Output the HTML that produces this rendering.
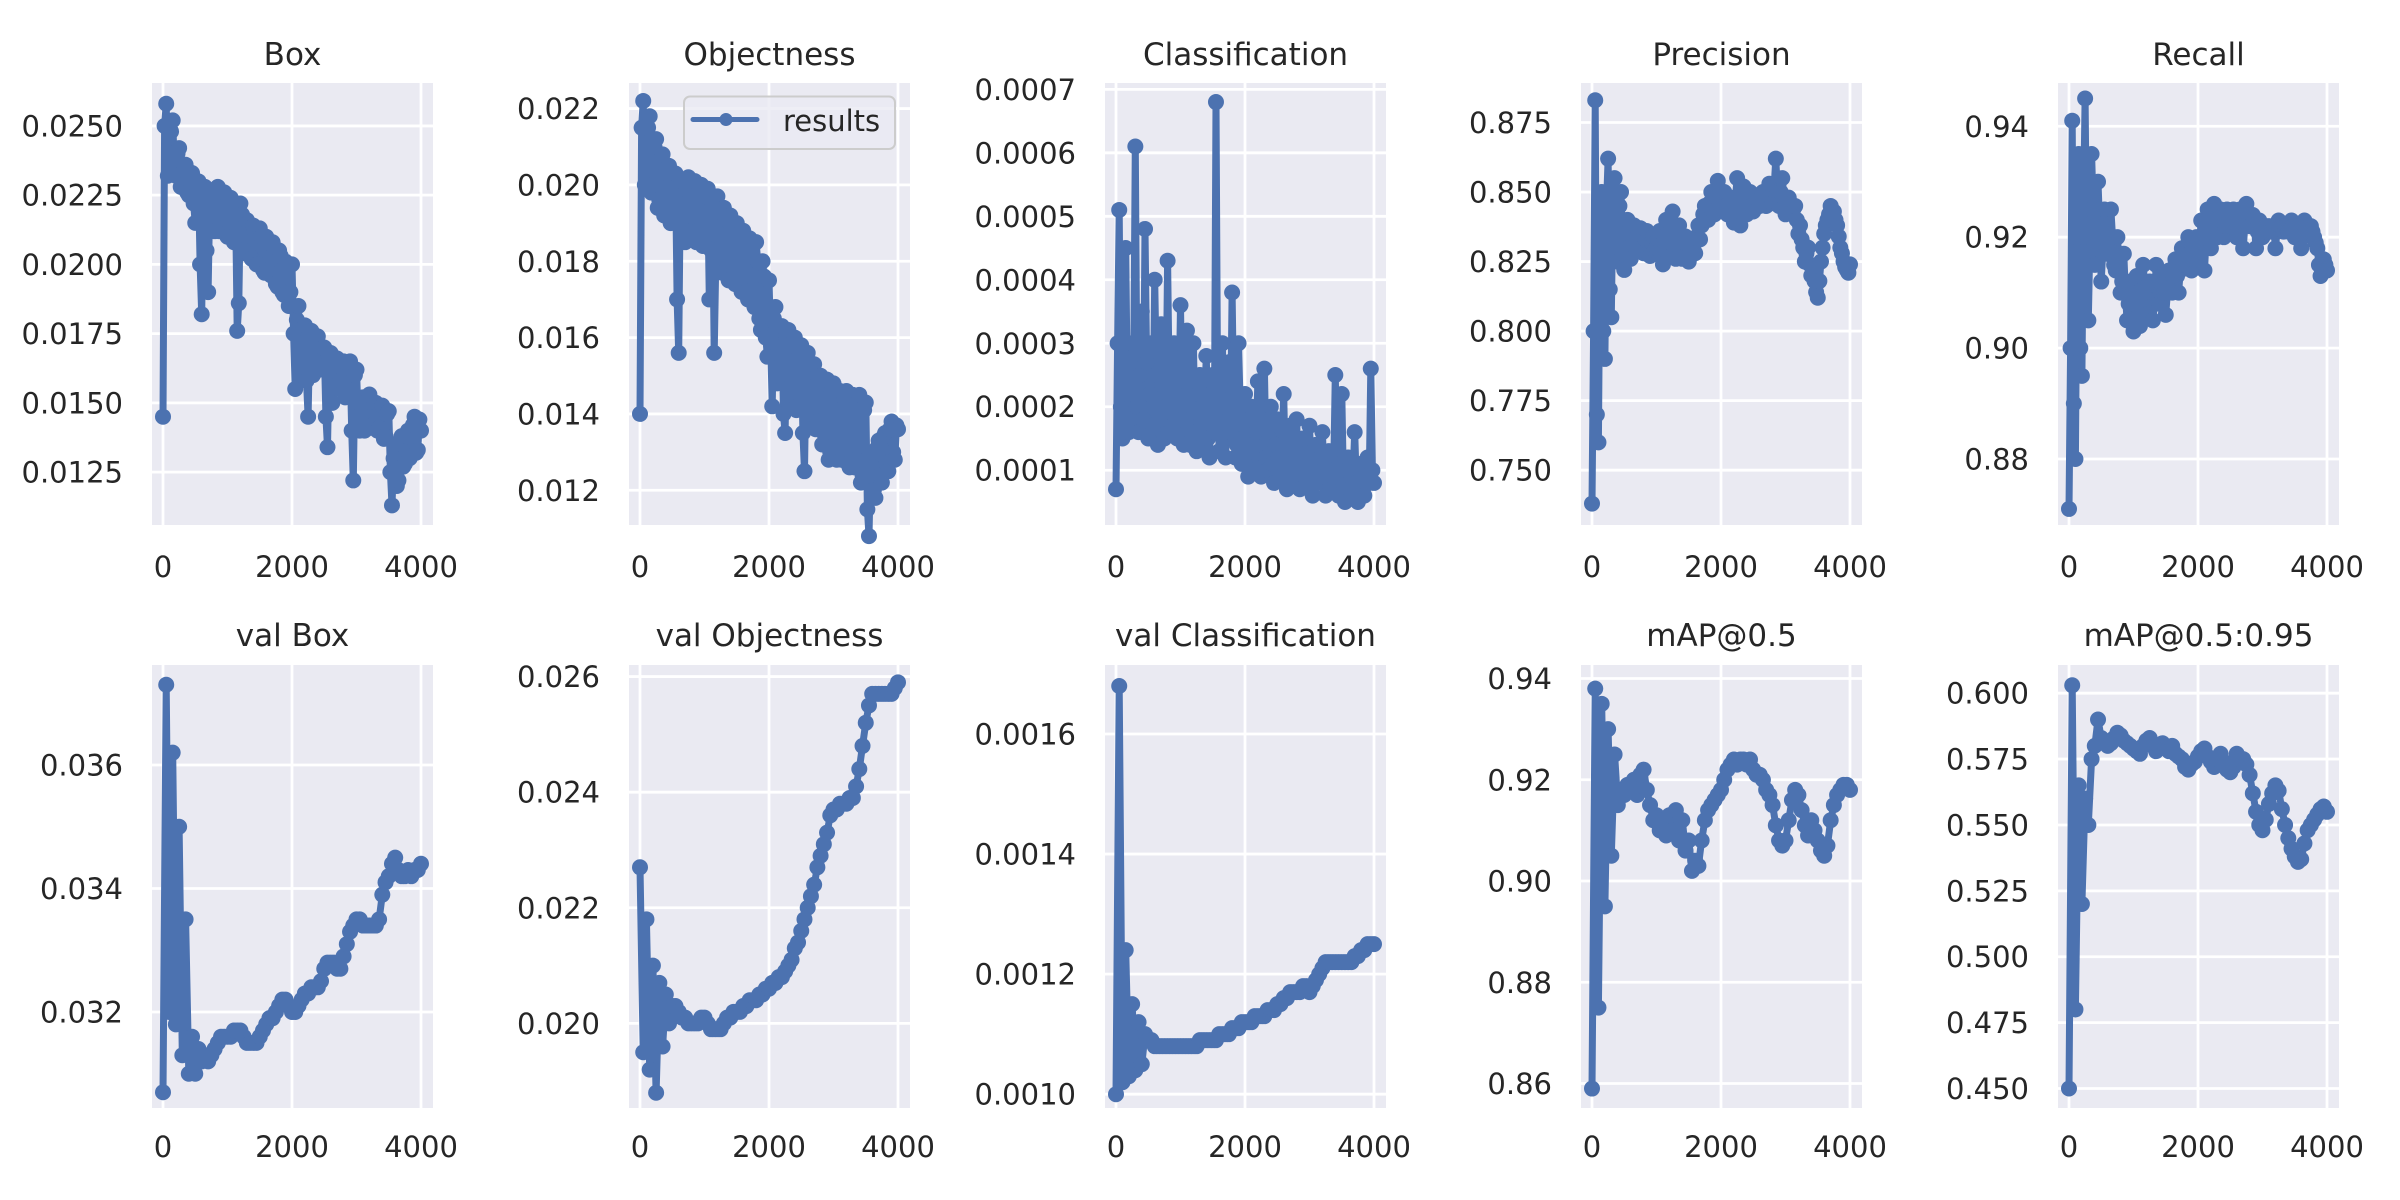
<!DOCTYPE html>
<html><head><meta charset="utf-8"><title>Training results</title>
<style>
html,body{margin:0;padding:0;background:#fff;}
svg{display:block;}
text{font-family:"DejaVu Sans","Liberation Sans",sans-serif;fill:#262626;}
</style></head>
<body>
<svg id="chart" width="2400" height="1200" viewBox="0 0 2400 1200" xmlns="http://www.w3.org/2000/svg"></svg>
<script>
// ---- data: main samples every 50 epochs (0..4000), mid samples at 25+50k ----
const epochs = [];
for (let e = 0; e <= 4000; e += 50) epochs.push(e);
const midEpochs = [];
for (let e = 25; e < 4000; e += 50) midEpochs.push(e);

const titles = ["Box","Objectness","Classification","Precision","Recall","val Box","val Objectness","val Classification","mAP@0.5","mAP@0.5:0.95"];

const boxLoss = [.0145,.0258,.0240,.0252,.0232,.0242,.0230,.0236,.0225,.0233,
.0215,.0230,.0182,.0228,.0190,.0226,.0212,.0228,.0213,.0226,
.0210,.0224,.0208,.0176,.0222,.0205,.0216,.0203,.0214,.0200,
.0213,.0198,.0210,.0197,.0208,.0193,.0205,.0190,.0201,.0185,
.0200,.0155,.0185,.0160,.0178,.0145,.0176,.0165,.0174,.0163,
.0170,.0134,.0168,.0156,.0166,.0158,.0165,.0155,.0165,.0122,
.0162,.0140,.0152,.0142,.0153,.0142,.0150,.0141,.0149,.0138,
.0147,.0113,.0135,.0122,.0138,.0128,.0140,.0132,.0145,.0133,.0140];
const boxLossMid = [.0250,.0232,.0248,.0235,.0240,.0228,.0234,.0226,.0230,.0222,
.0226,.0200,.0225,.0205,.0224,.0215,.0226,.0212,.0225,.0211,
.0222,.0210,.0220,.0186,.0218,.0204,.0215,.0202,.0212,.0200,
.0210,.0197,.0208,.0196,.0206,.0192,.0203,.0189,.0199,.0190,
.0175,.0180,.0165,.0177,.0158,.0175,.0160,.0172,.0162,.0170,
.0145,.0165,.0150,.0164,.0155,.0163,.0152,.0164,.0140,.0160,
.0145,.0150,.0140,.0151,.0141,.0149,.0140,.0148,.0137,.0146,
.0125,.0130,.0120,.0136,.0127,.0138,.0130,.0142,.0132,.0144];

const objLoss = [.0140,.0222,.0210,.0218,.0200,.0212,.0196,.0208,.0195,.0205,
.0192,.0203,.0156,.0201,.0185,.0202,.0188,.0201,.0188,.0200,
.0186,.0199,.0183,.0156,.0197,.0180,.0194,.0178,.0192,.0176,
.0190,.0175,.0188,.0172,.0186,.0170,.0185,.0165,.0180,.0160,
.0175,.0142,.0168,.0150,.0163,.0135,.0162,.0145,.0160,.0142,
.0158,.0125,.0156,.0140,.0153,.0138,.0150,.0135,.0149,.0130,
.0148,.0128,.0146,.0130,.0146,.0126,.0145,.0128,.0145,.0124,
.0143,.0108,.0130,.0118,.0133,.0122,.0135,.0125,.0138,.0128,.0136];
const objLossMid = [.0215,.0200,.0215,.0198,.0210,.0194,.0206,.0192,.0203,.0190,
.0200,.0170,.0199,.0187,.0200,.0186,.0199,.0185,.0198,.0184,
.0197,.0170,.0195,.0180,.0193,.0177,.0191,.0175,.0189,.0174,
.0187,.0172,.0185,.0170,.0183,.0168,.0180,.0162,.0176,.0155,
.0160,.0165,.0148,.0162,.0140,.0160,.0142,.0158,.0141,.0156,
.0135,.0154,.0138,.0151,.0136,.0149,.0132,.0148,.0128,.0146,
.0130,.0145,.0128,.0144,.0127,.0143,.0126,.0143,.0122,.0141,
.0115,.0128,.0120,.0131,.0124,.0134,.0127,.0136,.0130,.0137];

const clsLoss = [.00007,.00051,.00015,.00045,.00016,.00030,.00061,.00016,.00035,.00048,
.00015,.00030,.00040,.00014,.00033,.00015,.00043,.00016,.00030,.00015,
.00036,.00014,.00032,.00014,.00030,.00013,.00025,.00014,.00028,.00012,
.00025,.00068,.00013,.00030,.00012,.00027,.00038,.00012,.00030,.00011,
.00022,.00009,.00020,.00010,.00024,.00009,.00026,.00010,.00020,.00008,
.00018,.00009,.00022,.00007,.00017,.00009,.00018,.00007,.00015,.00008,
.00017,.00006,.00014,.00008,.00016,.00006,.00013,.00007,.00025,.00006,
.00022,.00005,.00012,.00006,.00016,.00005,.00011,.00006,.00012,.00026,.00008];
const clsLossMid = [.00030,.00020,.00028,.00022,.00018,.00026,.00020,.00025,.00018,.00027,
.00022,.00017,.00025,.00018,.00024,.00020,.00023,.00017,.00025,.00019,
.00018,.00024,.00017,.00023,.00016,.00022,.00017,.00021,.00015,.00022,
.00016,.00022,.00020,.00015,.00021,.00016,.00020,.00014,.00020,.00015,
.00014,.00018,.00013,.00016,.00012,.00017,.00012,.00015,.00011,.00014,
.00012,.00014,.00010,.00013,.00011,.00014,.00010,.00012,.00010,.00012,
.00010,.00011,.00009,.00012,.00009,.00011,.00008,.00010,.00009,.00011,
.00008,.00010,.00007,.00009,.00008,.00010,.00007,.00009,.00008,.00010];

const precision = [.738,.883,.760,.850,.790,.862,.805,.855,.825,.850,
.822,.840,.826,.838,.829,.837,.828,.836,.827,.834,
.830,.836,.824,.840,.832,.843,.826,.838,.826,.834,
.825,.833,.828,.838,.838,.845,.840,.850,.842,.854,
.845,.850,.842,.848,.839,.855,.838,.852,.842,.850,
.843,.848,.845,.850,.845,.853,.846,.862,.845,.855,
.842,.848,.843,.845,.835,.833,.825,.830,.820,.818,
.812,.825,.835,.840,.845,.843,.838,.830,.825,.822,.824];
const precisionMid = [.800,.770,.840,.800,.845,.815,.850,.830,.845,.828,
.835,.830,.835,.830,.834,.830,.833,.828,.832,.829,
.833,.828,.834,.828,.836,.830,.833,.829,.832,.826,
.830,.829,.834,.833,.842,.840,.846,.843,.848,.846,
.846,.845,.846,.844,.848,.843,.847,.844,.846,.845,
.846,.847,.848,.846,.849,.848,.852,.850,.850,.848,
.845,.844,.844,.840,.838,.830,.828,.824,.822,.814,
.818,.830,.838,.842,.840,.840,.834,.828,.823,.821];

const recall = [.871,.941,.880,.935,.895,.945,.905,.935,.915,.930,
.912,.925,.917,.925,.915,.920,.910,.917,.905,.912,
.903,.913,.904,.915,.906,.912,.905,.915,.908,.913,
.906,.914,.910,.916,.910,.918,.915,.920,.914,.918,
.916,.923,.914,.925,.918,.926,.920,.925,.920,.925,
.922,.925,.920,.925,.918,.926,.922,.924,.918,.923,
.920,.922,.922,.921,.918,.923,.922,.922,.921,.923,
.920,.922,.918,.923,.921,.922,.920,.918,.913,.916,.914];
const recallMid = [.900,.890,.920,.900,.925,.915,.920,.925,.918,.922,
.918,.920,.918,.920,.914,.916,.912,.910,.908,.910,
.908,.910,.908,.911,.909,.910,.908,.911,.910,.910,
.910,.911,.913,.913,.914,.915,.917,.917,.916,.920,
.919,.920,.920,.921,.922,.923,.922,.923,.922,.924,
.923,.923,.922,.923,.922,.924,.922,.922,.921,.922,
.921,.921,.921,.922,.921,.922,.921,.922,.922,.922,
.921,.920,.920,.921,.922,.921,.919,.915,.914,.915];

const valBox = [.0307,.0373,.0320,.0362,.0318,.0350,.0313,.0335,.0310,.0316,
.0310,.0314,.0312,.0313,.0312,.0313,.0314,.0315,.0316,.0316,
.0316,.0316,.0317,.0317,.0317,.0316,.0315,.0315,.0315,.0315,
.0316,.0317,.0318,.0319,.0319,.0320,.0321,.0322,.0322,.0321,
.0320,.0320,.0321,.0322,.0323,.0323,.0324,.0324,.0324,.0325,
.0327,.0328,.0328,.0328,.0327,.0327,.0329,.0331,.0333,.0334,
.0335,.0335,.0334,.0334,.0334,.0334,.0334,.0335,.0339,.0341,
.0342,.0344,.0345,.0343,.0342,.0342,.0343,.0342,.0343,.0343,.0344];

const valObj = [.0227,.0195,.0218,.0192,.0210,.0188,.0207,.0196,.0205,.0200,
.0203,.0203,.0202,.0201,.0201,.0200,.0200,.0200,.0200,.0201,
.0201,.0200,.0199,.0199,.0199,.0199,.0200,.0201,.0201,.0202,
.0202,.0202,.0203,.0203,.0204,.0204,.0204,.0205,.0205,.0206,
.0206,.0207,.0207,.0208,.0208,.0209,.0210,.0211,.0213,.0214,
.0216,.0218,.0220,.0222,.0224,.0227,.0229,.0231,.0233,.0236,
.0237,.0237,.0238,.0238,.0238,.0239,.0239,.0241,.0244,.0248,
.0252,.0255,.0257,.0257,.0257,.0257,.0257,.0257,.0257,.0258,.0259];

const valCls = [.00100,.00168,.00102,.00124,.00103,.00115,.00104,.00112,.00105,.00110,
.00109,.00109,.00108,.00108,.00108,.00108,.00108,.00108,.00108,.00108,
.00108,.00108,.00108,.00108,.00108,.00108,.00109,.00109,.00109,.00109,
.00109,.00109,.00110,.00110,.00110,.00110,.00111,.00111,.00111,.00112,
.00112,.00112,.00112,.00113,.00113,.00113,.00113,.00114,.00114,.00114,
.00115,.00115,.00116,.00116,.00117,.00117,.00117,.00117,.00118,.00118,
.00117,.00118,.00119,.00120,.00121,.00122,.00122,.00122,.00122,.00122,
.00122,.00122,.00122,.00122,.00123,.00123,.00124,.00124,.00125,.00125,.00125];

const map50 = [.859,.938,.875,.935,.895,.930,.905,.925,.915,.918,
.917,.919,.918,.920,.917,.921,.922,.918,.915,.912,
.913,.910,.912,.909,.913,.910,.914,.908,.912,.906,
.908,.902,.904,.903,.908,.912,.914,.915,.916,.917,
.918,.920,.922,.923,.924,.923,.924,.924,.923,.924,
.922,.921,.921,.920,.918,.917,.915,.911,.908,.907,
.908,.912,.916,.918,.917,.914,.911,.909,.912,.910,
.908,.906,.905,.907,.912,.915,.917,.918,.919,.919,.918];

const map5095 = [.450,.603,.480,.565,.520,.560,.550,.575,.580,.590,
.583,.582,.580,.581,.583,.585,.584,.582,.581,.580,
.579,.578,.577,.580,.582,.583,.580,.578,.580,.581,
.579,.578,.580,.577,.576,.575,.572,.571,.573,.574,
.576,.578,.579,.576,.574,.572,.575,.577,.574,.571,
.570,.572,.577,.575,.575,.573,.569,.562,.555,.550,
.548,.552,.558,.562,.565,.563,.556,.550,.545,.541,
.538,.536,.537,.543,.548,.550,.552,.554,.556,.557,.555];

const xTicks = [0, 2000, 4000];
const yTicksBox = [.0125,.0150,.0175,.0200,.0225,.0250];
const yTicksObj = [.012,.014,.016,.018,.020,.022];
const yTicksCls = [.0001,.0002,.0003,.0004,.0005,.0006,.0007];
const yTicksPrec = [.750,.775,.800,.825,.850,.875];
const yTicksRec = [.88,.90,.92,.94];
const yTicksVBox = [.032,.034,.036];
const yTicksVObj = [.020,.022,.024,.026];
const yTicksVCls = [.0010,.0012,.0014,.0016];
const yTicksMap50 = [.86,.88,.90,.92,.94];
const yTicksMap95 = [.450,.475,.500,.525,.550,.575,.600];

const NS = "http://www.w3.org/2000/svg";
const svg = document.getElementById("chart");
function mk(tag, attrs, parent) {
  const el = document.createElementNS(NS, tag);
  for (const k in attrs) el.setAttribute(k, attrs[k]);
  (parent || svg).appendChild(el);
  return el;
}

const lefts = [152, 629, 1105, 1581, 2058];
const W = 281;
const rows = [{top:83, bottom:525, titleY:65, xLabY:577}, {top:665, bottom:1108, titleY:646, xLabY:1157}];
const panels = [
  {data:boxLoss, mid:boxLossMid, ticks:yTicksBox, dom:[0.01059,0.02655], dec:4},
  {data:objLoss, mid:objLossMid, ticks:yTicksObj, dom:[0.01109,0.02267], dec:3},
  {data:clsLoss, mid:clsLossMid, ticks:yTicksCls, dom:[0.0000137,0.00071], dec:4},
  {data:precision, mid:precisionMid, ticks:yTicksPrec, dom:[0.7303,0.8892], dec:3},
  {data:recall, mid:recallMid, ticks:yTicksRec, dom:[0.8681,0.9478], dec:2},
  {data:valBox, mid:null, ticks:yTicksVBox, dom:[0.030445,0.03762], dec:3},
  {data:valObj, mid:null, ticks:yTicksVObj, dom:[0.018536,0.0262], dec:3},
  {data:valCls, mid:null, ticks:yTicksVCls, dom:[0.000977,0.001715], dec:4},
  {data:map50, mid:null, ticks:yTicksMap50, dom:[0.85516,0.94267], dec:2},
  {data:map5095, mid:null, ticks:yTicksMap95, dom:[0.4426,0.6107], dec:3}
];
const XMIN = -170.5, XMAX = 4186;

panels.forEach((p, i) => {
  const r = rows[Math.floor(i / 5)];
  const L = lefts[i % 5], R = L + W, T = r.top, B = r.bottom;
  const xs = v => L + (v - XMIN) / (XMAX - XMIN) * W;
  const ys = v => B - (v - p.dom[0]) / (p.dom[1] - p.dom[0]) * (B - T);
  const slug = titles[i].toLowerCase().replace(/[^a-z0-9]+/g, '-').replace(/-$/, '');
  const g = mk("g", {});
  
  
  const bg = mk("rect", {x:L, y:T, width:W, height:B-T, fill:"#EAEAF2"}, g);
  
  
  xTicks.forEach(t => {
    const gl = mk("line", {x1:xs(t), x2:xs(t), y1:T, y2:B, stroke:"#fff", "stroke-width":2.8}, g);
    
    
    const tl = mk("text", {x:xs(t), y:r.xLabY, "text-anchor":"middle", "font-size":29}, g);
    tl.textContent = String(t);
    
    
  });
  p.ticks.forEach(t => {
    const gl = mk("line", {x1:L, x2:R, y1:ys(t), y2:ys(t), stroke:"#fff", "stroke-width":2.8}, g);
    
    
    const tl = mk("text", {x:L - 29, y:ys(t) + 10.5, "text-anchor":"end", "font-size":29}, g);
    tl.textContent = t.toFixed(p.dec);
    
    
  });
  const title = mk("text", {x:L + W/2, y:r.titleY, "text-anchor":"middle", "font-size":31}, g);
  title.textContent = titles[i];
  
  
  // merge main + mid samples in epoch order
  const series = [];
  p.data.forEach((v, k) => {
    series.push([epochs[k], v]);
    if (p.mid && k < p.mid.length) series.push([midEpochs[k], p.mid[k]]);
  });
  const pts = series.map(s => xs(s[0]).toFixed(1) + "," + ys(s[1]).toFixed(1));
  const line = mk("polyline", {points:pts.join(" "), fill:"none", stroke:"#4C72B0", "stroke-width":7, "stroke-linejoin":"round"}, g);
  
  
  series.forEach(s => {
    const c = mk("circle", {cx:xs(s[0]), cy:ys(s[1]), r:8, fill:"#4C72B0"}, g);
    
    
  });
});

const lg = mk("g", {});


mk("rect", {x:684, y:96.5, width:211, height:52.5, rx:6, fill:"#EAEAF2", "fill-opacity":0.8, stroke:"#cccccc", "stroke-width":2}, lg);
const ll = mk("line", {x1:693, x2:757, y1:119.5, y2:119.5, stroke:"#4C72B0", "stroke-width":5, "stroke-linecap":"round"}, lg);


mk("circle", {cx:726, cy:119.5, r:6.5, fill:"#4C72B0"}, lg);
const lt = mk("text", {x:783, y:131, "font-size":29}, lg);
lt.textContent = "results";


</script>
</body></html>
